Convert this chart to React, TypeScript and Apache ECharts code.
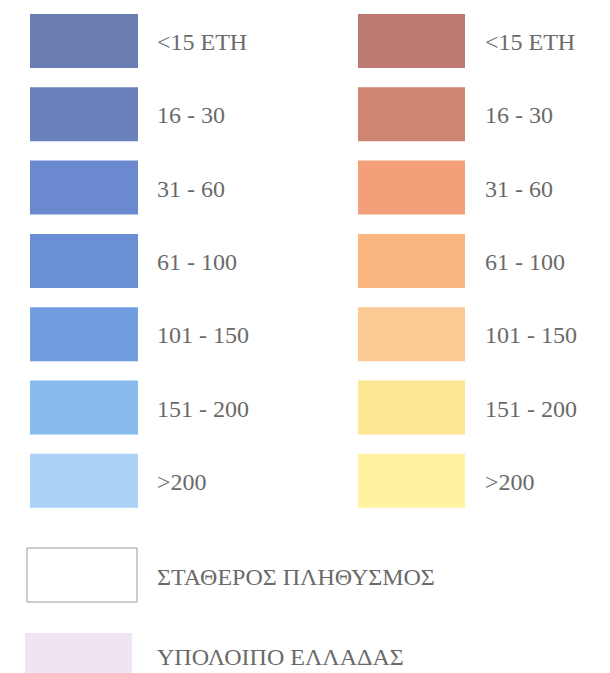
import React, { useEffect, useRef } from "react";
import * as echarts from "echarts";

const rangeLabels = ["<15 ΕΤΗ", "16 - 30", "31 - 60", "61 - 100", "101 - 150", "151 - 200", ">200"];
const blueColors = ["#6a7eb3", "#6a80bb", "#6b89cf", "#6b8fd5", "#6f9ddf", "#88baee", "#acd2f8"];
const orangeColors = ["#bc7a72", "#ce8572", "#f3a07a", "#fbb67f", "#fbc994", "#fde792", "#fff3a2"];
const extraLabels = ["ΣΤΑΘΕΡΟΣ ΠΛΗΘΥΣΜΟΣ", "ΥΠΟΛΟΙΠΟ ΕΛΛΑΔΑΣ"];
const extraFills = ["#ffffff", "#efe4f2"];
const extraStrokes = ["#9a9a9a", null];

const FONT_FAMILY = "'Liberation Serif', 'DejaVu Serif', serif";
const TEXT_COLOR = "#6a6a6a";

export default function App() {
  const ref = useRef<HTMLDivElement>(null);
  useEffect(() => {
    if (!ref.current) return;
    const chart = echarts.init(ref.current, null, { renderer: "svg" });
    const elements: any[] = [];
    const top0 = 14;
    const step = 73.3;
    const h = 54;
    const cols = [
      { x: 30, w: 108, tx: 157, colors: blueColors },
      { x: 358, w: 107, tx: 485, colors: orangeColors },
    ];
    cols.forEach((c) => {
      rangeLabels.forEach((lab, i) => {
        const y = top0 + i * step;
        elements.push({
          type: "rect",
          shape: { x: c.x, y, width: c.w, height: h },
          style: { fill: c.colors[i] },
        });
        elements.push({
          type: "text",
          x: c.tx,
          y: y + h / 2 + 1,
          style: {
            text: lab,
            fontFamily: FONT_FAMILY,
            fontSize: 24,
            fill: TEXT_COLOR,
            verticalAlign: "middle",
            align: "left",
          },
        });
      });
    });
    const extraBoxes = [
      { x: 27, y: 548, w: 110, h: 54, ty: 577 },
      { x: 25, y: 633, w: 107, h: 60, ty: 657 },
    ];
    extraLabels.forEach((lab, i) => {
      const b = extraBoxes[i];
      elements.push({
        type: "rect",
        shape: { x: b.x, y: b.y, width: b.w, height: b.h },
        style: {
          fill: extraFills[i],
          stroke: extraStrokes[i] || undefined,
          lineWidth: extraStrokes[i] ? 1 : 0,
        },
      });
      elements.push({
        type: "text",
        x: 157,
        y: b.ty,
        style: {
          text: lab,
          fontFamily: FONT_FAMILY,
          fontSize: 24,
          fill: TEXT_COLOR,
          verticalAlign: "middle",
          align: "left",
        },
      });
    });
    chart.setOption({
      animation: false,
      backgroundColor: "#ffffff",
      graphic: { elements },
    });
    return () => chart.dispose();
  }, []);
  return (
    <div
      ref={ref}
      style={{ position: "fixed", left: 0, top: 0, width: 610, height: 673 }}
    />
  );
}
